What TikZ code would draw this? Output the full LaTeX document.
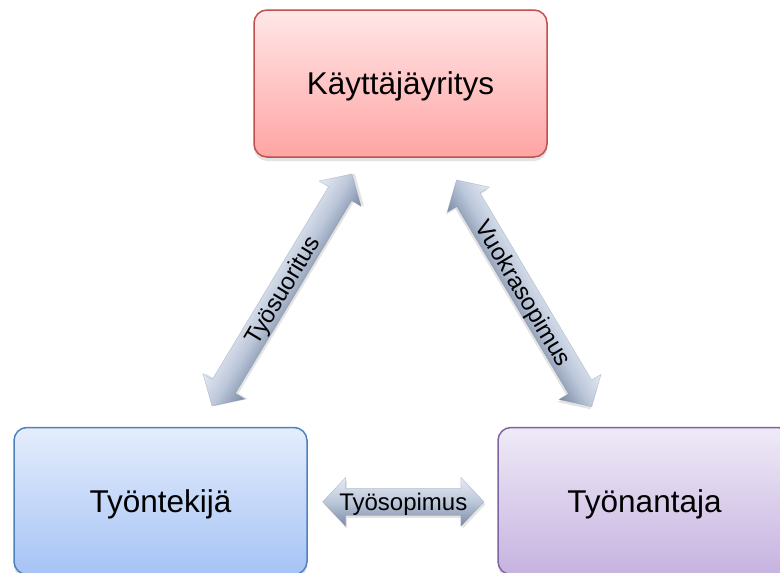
\documentclass[tikz,border=0pt]{standalone}
\usepackage{fontspec}
\setmainfont{Liberation Sans}
\usetikzlibrary{calc,shadows}

% box colours
\definecolor{redline}{HTML}{C0504D}
\definecolor{redtop}{HTML}{FFE7E7}
\definecolor{redbot}{HTML}{FFA4A4}
\definecolor{blueline}{HTML}{4F81BD}
\definecolor{bluetop}{HTML}{E4EDFC}
\definecolor{bluebot}{HTML}{A6C3F5}
\definecolor{purpline}{HTML}{8064A2}
\definecolor{purptop}{HTML}{EFEAF7}
\definecolor{purpbot}{HTML}{C6B3E0}
% arrow colours
\definecolor{arrtop}{HTML}{E6EBF3}
\definecolor{arrmid}{HTML}{BCC7DA}
\definecolor{arrbot}{HTML}{7A8AA4}

% fat double arrow: head length, head half width, shaft half width
\newcommand\arrHeadLen{23}
\newcommand\arrHeadHalf{24.5}
\newcommand\arrShaftHalf{13.5}

\begin{document}
\begin{tikzpicture}[x=1pt,y=-1pt,
  party/.style={rectangle, rounded corners=13pt, minimum width=293pt,
    minimum height=147pt, line width=1.5pt, inner sep=0pt,
    font=\fontsize{31.5}{36}\selectfont, text height=22.5pt, text depth=0pt,
    drop shadow={shadow xshift=0pt, shadow yshift=-4pt, opacity=.22}},
  arrowbody/.style={top color=arrtop, bottom color=arrbot, middle color=arrmid,
    draw=arrbot, draw opacity=.4, line width=.5pt,
    drop shadow={shadow xshift=1.5pt, shadow yshift=-2.5pt, opacity=.22},
    to path={(\tikztostart)
      -- ($(\tikztostart)+(\arrHeadLen,\arrHeadHalf)$)
      -- ($(\tikztostart)+(\arrHeadLen,\arrShaftHalf)$)
      -- ($(\tikztotarget)+(-\arrHeadLen,\arrShaftHalf)$)
      -- ($(\tikztotarget)+(-\arrHeadLen,\arrHeadHalf)$)
      -- (\tikztotarget)
      -- ($(\tikztotarget)+(-\arrHeadLen,-\arrHeadHalf)$)
      -- ($(\tikztotarget)+(-\arrHeadLen,-\arrShaftHalf)$)
      -- ($(\tikztostart)+(\arrHeadLen,-\arrShaftHalf)$)
      -- ($(\tikztostart)+(\arrHeadLen,-\arrHeadHalf)$)
      -- cycle}},
  arrowlabel/.style={inner sep=0pt, font=\fontsize{24}{27}\selectfont,
    text height=17pt, text depth=0pt}
]
\useasboundingbox[fill=white] (0,0) rectangle (780,573);

% the three parties
\node[party, draw=redline, top color=redtop, bottom color=redbot]
  (user) at (400.5,83.5) {Käyttäjäyritys};
\node[party, draw=blueline, top color=bluetop, bottom color=bluebot]
  (worker) at (160.5,501) {Työntekijä};
\node[party, draw=purpline, top color=purptop, bottom color=purpbot]
  (employer) at (644.5,501) {Työnantaja};

% worker <-> user
\begin{scope}[transform canvas={shift={(282,290)}, rotate=58.9}]
  \coordinate (wuA) at (-135.5,0);
  \coordinate (wuB) at (135.5,0);
  \path[arrowbody] (wuA) to (wuB);
  \node[arrowlabel] (wulabel) at (0,0) {Työsuoritus};
\end{scope}

% user <-> employer
\begin{scope}[transform canvas={shift={(524.2,293.3)}, rotate=-59.2}]
  \coordinate (ueA) at (-132,0);
  \coordinate (ueB) at (132,0);
  \path[arrowbody] (ueA) to (ueB);
  \node[arrowlabel] (uelabel) at (0,0) {Vuokrasopimus};
\end{scope}

% worker <-> employer
\begin{scope}[transform canvas={shift={(403.3,501.8)}}]
  \coordinate (weA) at (-80.6,0);
  \coordinate (weB) at (80.6,0);
  \path[arrowbody] (weA) to (weB);
  \node[arrowlabel] (welabel) at (0,0) {Työsopimus};
\end{scope}
\end{tikzpicture}
\end{document}
